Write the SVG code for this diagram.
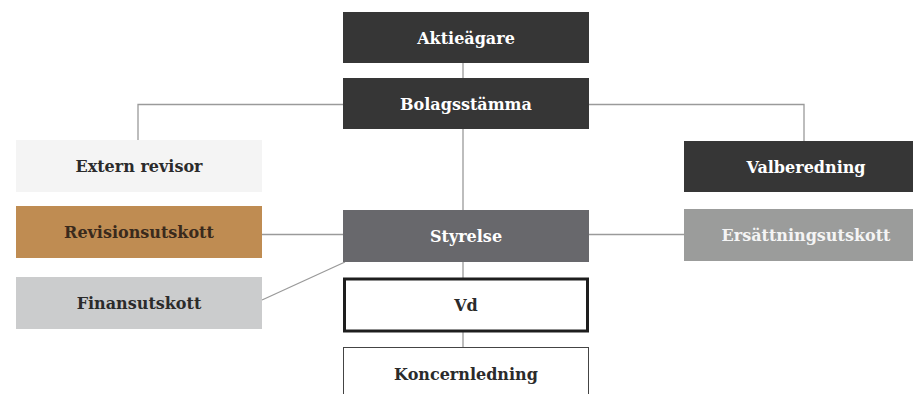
<svg xmlns="http://www.w3.org/2000/svg" width="913" height="394" viewBox="0 0 913 394">
<style>
text{font-family:"DejaVu Serif","Liberation Serif",serif;font-weight:bold;font-size:16px;text-anchor:middle}
.lt{fill:#ffffff}
.dk{fill:#2b2b2b}
.conn line,.conn polyline{stroke:#9a9a9a;stroke-width:1.3;fill:none}
</style>
<rect width="913" height="394" fill="#ffffff"/>
<g class="conn">
<line x1="463" y1="63" x2="463" y2="78"/>
<polyline points="138,140 138,104.5 343,104.5"/>
<polyline points="589,104.5 804,104.5 804,141"/>
<line x1="463" y1="129" x2="463" y2="210"/>
<line x1="262" y1="234.5" x2="343" y2="234.5"/>
<line x1="589" y1="234.5" x2="684" y2="234.5"/>
<line x1="262" y1="300" x2="345" y2="262"/>
<line x1="463" y1="262" x2="463" y2="278" stroke="#555"/>
<line x1="463" y1="332" x2="463" y2="347" stroke="#555"/>
</g>
<g id="aktieagare"><rect x="343" y="12" width="246" height="51" fill="#363636"/><text class="lt" x="466" y="43.5">Aktieägare</text></g>
<g id="bolagsstamma"><rect x="343" y="78" width="246" height="51" fill="#363636"/><text class="lt" x="466" y="109.5">Bolagsstämma</text></g>
<g id="extern-revisor"><rect x="16" y="140" width="246" height="52" fill="#f4f4f4"/><text class="dk" x="139" y="172">Extern revisor</text></g>
<g id="valberedning"><rect x="684" y="141" width="229" height="51" fill="#363636"/><text class="lt" x="806" y="172.5">Valberedning</text></g>
<g id="revisionsutskott"><rect x="16" y="206" width="246" height="52" fill="#bf8c52"/><text x="139" y="238" fill="#3a2a1c">Revisionsutskott</text></g>
<g id="styrelse"><rect x="343" y="210" width="246" height="52" fill="#68686c"/><text class="lt" x="466" y="242">Styrelse</text></g>
<g id="ersattningsutskott"><rect x="684" y="209" width="229" height="52" fill="#9b9c9b"/><text x="806" y="241" fill="#f4f4f4">Ersättningsutskott</text></g>
<g id="finansutskott"><rect x="16" y="277" width="246" height="52" fill="#cbcccd"/><text class="dk" x="139" y="309">Finansutskott</text></g>
<g id="vd"><rect x="344.5" y="279" width="243" height="52" fill="#ffffff" stroke="#1e1e1e" stroke-width="3"/><text class="dk" x="466" y="311">Vd</text></g>
<g id="koncernledning"><rect x="343.5" y="347.5" width="245" height="60" fill="#ffffff" stroke="#444" stroke-width="1"/><text class="dk" x="466" y="380">Koncernledning</text></g>
</svg>
